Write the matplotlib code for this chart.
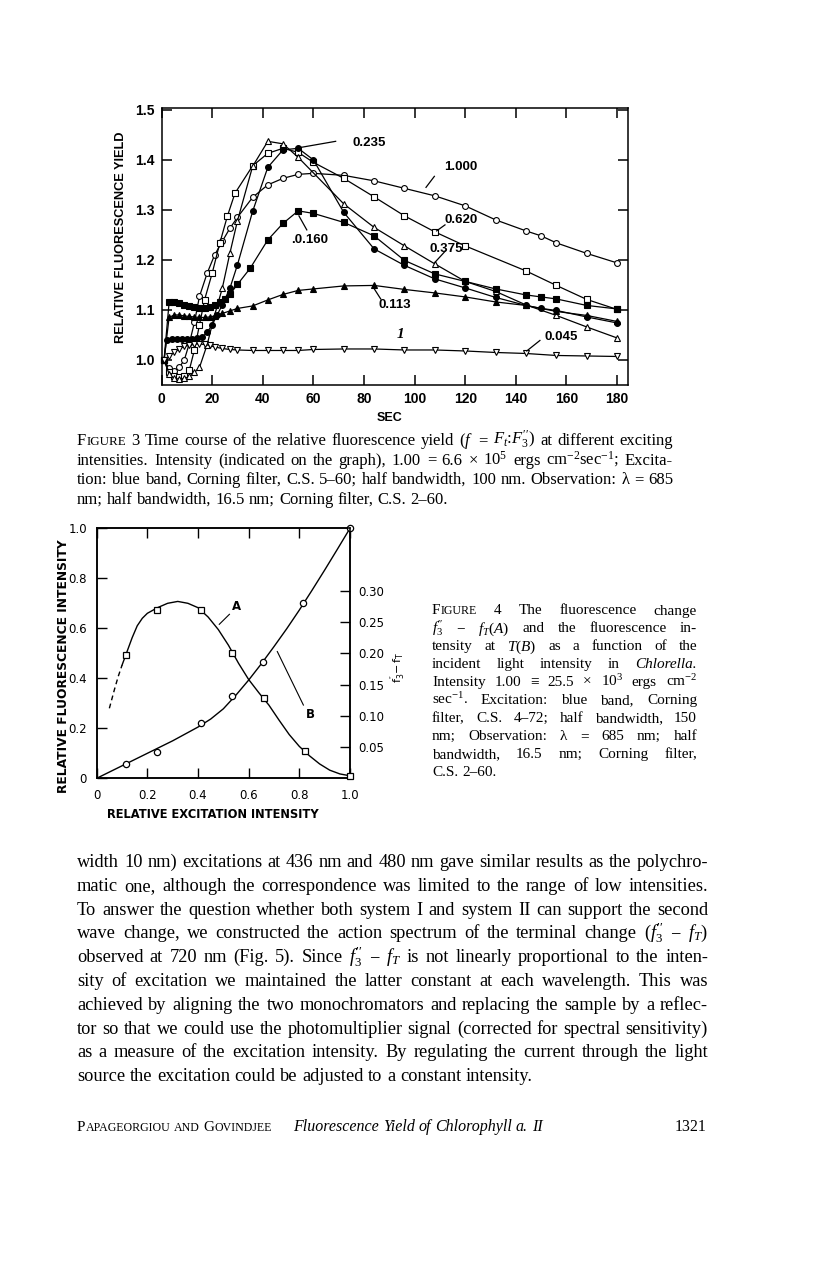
import matplotlib
matplotlib.use('Agg')
import matplotlib.pyplot as plt

# ── fonts ──
SERIF = ['Liberation Serif', 'DejaVu Serif']
SANS = ['Liberation Sans', 'DejaVu Sans']
plt.rcParams['mathtext.fontset'] = 'custom'
plt.rcParams['mathtext.rm'] = 'Liberation Serif'
plt.rcParams['mathtext.it'] = 'Liberation Serif:italic'
plt.rcParams['mathtext.sf'] = 'DejaVu Sans'

W, H = 816, 1268   # page size in px (dpi 100)

# ══════ Figure 3 data: time (sec) / relative fluorescence yield ══════
t_1000 = [1, 3, 5, 7, 9, 11, 13, 15, 18, 21, 24, 27, 30, 36, 42, 48, 54, 60, 72, 84, 96, 108, 120, 132, 144, 150, 156, 168, 180]
f_1000 = [1.0, 0.983, 0.978, 0.985, 1.0, 1.033, 1.075, 1.127, 1.173, 1.21, 1.237, 1.263, 1.285, 1.325, 1.35, 1.363, 1.371, 1.373, 1.369, 1.358, 1.343, 1.328, 1.308, 1.28, 1.258, 1.248, 1.234, 1.213, 1.194]

t_0620 = [1, 3, 5, 7, 9, 11, 13, 15, 17, 20, 23, 26, 29, 36, 42, 48, 54, 60, 72, 84, 96, 108, 120, 144, 156, 168, 180]
f_0620 = [1.0, 0.975, 0.967, 0.965, 0.967, 0.98, 1.02, 1.07, 1.12, 1.173, 1.233, 1.287, 1.333, 1.388, 1.413, 1.423, 1.415, 1.395, 1.363, 1.326, 1.288, 1.256, 1.228, 1.178, 1.149, 1.121, 1.101]

t_0375 = [1, 3, 5, 7, 9, 11, 13, 15, 18, 21, 24, 27, 30, 36, 42, 48, 54, 72, 84, 96, 108, 120, 132, 144, 156, 168, 180]
f_0375 = [1.0, 0.972, 0.963, 0.962, 0.963, 0.967, 0.975, 0.985, 1.03, 1.09, 1.143, 1.213, 1.278, 1.387, 1.437, 1.432, 1.405, 1.312, 1.265, 1.228, 1.192, 1.157, 1.137, 1.11, 1.089, 1.066, 1.044]

t_0235 = [1, 2, 4, 6, 8, 10, 12, 14, 16, 18, 20, 22, 24, 27, 30, 36, 42, 48, 54, 60, 72, 84, 96, 108, 120, 132, 144, 150, 156, 168, 180]
f_0235 = [1.0, 1.04, 1.042, 1.042, 1.042, 1.042, 1.042, 1.043, 1.045, 1.055, 1.07, 1.09, 1.11, 1.143, 1.19, 1.297, 1.385, 1.42, 1.423, 1.40, 1.295, 1.222, 1.189, 1.162, 1.144, 1.125, 1.109, 1.103, 1.099, 1.086, 1.074]

t_0160 = [1, 3, 5, 7, 9, 11, 13, 15, 17, 19, 21, 23, 25, 27, 30, 35, 42, 48, 54, 60, 72, 84, 96, 108, 120, 132, 144, 150, 156, 168, 180]
f_0160 = [1.0, 1.115, 1.115, 1.113, 1.11, 1.107, 1.105, 1.103, 1.103, 1.105, 1.11, 1.115, 1.122, 1.131, 1.151, 1.183, 1.24, 1.273, 1.298, 1.293, 1.275, 1.248, 1.199, 1.172, 1.157, 1.142, 1.13, 1.126, 1.122, 1.109, 1.102]

t_0113 = [1, 3, 5, 7, 9, 11, 13, 15, 17, 19, 21, 24, 27, 30, 36, 42, 48, 54, 60, 72, 84, 96, 108, 120, 132, 144, 156, 168, 180]
f_0113 = [1.0, 1.085, 1.09, 1.09, 1.088, 1.087, 1.086, 1.085, 1.085, 1.086, 1.088, 1.093, 1.098, 1.103, 1.108, 1.12, 1.131, 1.139, 1.142, 1.148, 1.149, 1.141, 1.134, 1.126, 1.116, 1.109, 1.097, 1.089, 1.077]

t_0045 = [1, 3, 5, 7, 9, 11, 13, 15, 17, 19, 21, 24, 27, 30, 36, 42, 48, 54, 60, 72, 84, 96, 108, 120, 132, 144, 156, 168, 180]
f_0045 = [1.0, 1.008, 1.015, 1.022, 1.027, 1.03, 1.032, 1.032, 1.031, 1.029, 1.026, 1.023, 1.021, 1.02, 1.019, 1.019, 1.019, 1.019, 1.021, 1.022, 1.022, 1.02, 1.02, 1.018, 1.015, 1.013, 1.009, 1.008, 1.007]

fig3_x_ticks = [0, 20, 40, 60, 80, 100, 120, 140, 160, 180]
fig3_y_ticks = [1.0, 1.1, 1.2, 1.3, 1.4, 1.5]

# ══════ Figure 4 data ══════
# A: f3'' - fT (right axis) ; B: fluorescence intensity at T (left axis)
a_x = [0.116, 0.239, 0.411, 0.536, 0.661, 0.822, 1.0]
a_y = [0.198, 0.270, 0.269, 0.200, 0.129, 0.044, 0.004]
b_x = [0.116, 0.239, 0.411, 0.536, 0.658, 0.816, 1.0]
b_y = [0.056, 0.105, 0.22, 0.33, 0.467, 0.703, 1.0]

# hand-drawn curves
curve_a_x = [0.10, 0.12, 0.14, 0.16, 0.18, 0.20, 0.24, 0.28, 0.32, 0.36, 0.40, 0.44, 0.48, 0.52, 0.56, 0.60, 0.64, 0.68, 0.72, 0.76, 0.80, 0.84, 0.88, 0.92, 0.96, 1.0]
curve_a_y = [0.181, 0.203, 0.225, 0.244, 0.256, 0.264, 0.273, 0.280, 0.283, 0.280, 0.273, 0.258, 0.238, 0.213, 0.184, 0.158, 0.137, 0.117, 0.093, 0.070, 0.051, 0.036, 0.023, 0.013, 0.007, 0.004]
dash_a_x = [0.05, 0.07, 0.085, 0.10]
dash_a_y = [0.112, 0.142, 0.163, 0.181]
curve_b_x = [0, 0.1, 0.2, 0.3, 0.4, 0.45, 0.5, 0.55, 0.6, 0.65, 0.7, 0.75, 0.8, 0.85, 0.9, 0.95, 1.0]
curve_b_y = [0, 0.05, 0.1, 0.15, 0.205, 0.237, 0.278, 0.333, 0.393, 0.458, 0.527, 0.598, 0.673, 0.752, 0.833, 0.916, 1.0]

fig4_x_ticks = [0, 0.2, 0.4, 0.6, 0.8, 1.0]
fig4_x_labels = ['0', '0.2', '0.4', '0.6', '0.8', '1.0']
fig4_y_ticks = [0, 0.2, 0.4, 0.6, 0.8, 1.0]
fig4_y_labels = ['0', '0.2', '0.4', '0.6', '0.8', '1.0']
fig4_r_ticks = [0.05, 0.10, 0.15, 0.20, 0.25, 0.30]
fig4_r_labels = ['0.05', '0.10', '0.15', '0.20', '0.25', '0.30']

# ══════ text ══════
cap3 = [
    [['F', '~IGURE'], '3', 'Time', 'course', 'of', 'the', 'relative', 'fluorescence', 'yield', '($f$', '=', "$F_t$:$F_3''$)", 'at', 'different', 'exciting'],
    ['intensities.', 'Intensity', '(indicated', 'on', 'the', 'graph),', '1.00', '=', '6.6', '×', '10$^5$', 'ergs', 'cm$^{-2}$sec$^{-1}$;', 'Excita-'],
    ['tion:', 'blue', 'band,', 'Corning', 'filter,', 'C.S.', '5–60;', 'half', 'bandwidth,', '100', 'nm.', 'Observation:', 'λ', '=', '685'],
    ['nm;', 'half', 'bandwidth,', '16.5', 'nm;', 'Corning', 'filter,', 'C.S.', '2–60.'],
]
cap4 = [
    [['F', '~IGURE'], '4', 'The', 'fluorescence', 'change'],
    ["$f_3''$", '−', '$f_T$($A$)', 'and', 'the', 'fluorescence', 'in-'],
    ['tensity', 'at', '$T$($B$)', 'as', 'a', 'function', 'of', 'the'],
    ['incident', 'light', 'intensity', 'in', '/Chlorella.'],
    ['Intensity', '1.00', '≡', '25.5', '×', '10$^3$', 'ergs', 'cm$^{-2}$'],
    ['sec$^{-1}$.', 'Excitation:', 'blue', 'band,', 'Corning'],
    ['filter,', 'C.S.', '4–72;', 'half', 'bandwidth,', '150'],
    ['nm;', 'Observation:', 'λ', '=', '685', 'nm;', 'half'],
    ['bandwidth,', '16.5', 'nm;', 'Corning', 'filter,'],
    ['C.S.', '2–60.'],
]
body = [
    'width 10 nm) excitations at 436 nm and 480 nm gave similar results as the polychro-',
    'matic one, although the correspondence was limited to the range of low intensities.',
    'To answer the question whether both system I and system II can support the second',
    "wave change, we constructed the action spectrum of the terminal change ($f_3''$ − $f_T$)",
    "observed at 720 nm (Fig. 5). Since $f_3''$ − $f_T$ is not linearly proportional to the inten-",
    'sity of excitation we maintained the latter constant at each wavelength. This was',
    'achieved by aligning the two monochromators and replacing the sample by a reflec-',
    'tor so that we could use the photomultiplier signal (corrected for spectral sensitivity)',
    'as a measure of the excitation intensity. By regulating the current through the light',
    'source the excitation could be adjusted to a constant intensity.',
]
body = [line.split(' ') for line in body]


def rect(l, t, r, b):
    return [l / W, 1 - b / H, (r - l) / W, (b - t) / H]


def make_words(fig, rend, tokens, size):
    groups = []
    for tok in tokens:
        parts = tok if isinstance(tok, list) else [tok]
        grp = []
        for p in parts:
            fs, st = size, 'normal'
            if p.startswith('~'):
                p, fs = p[1:], size * 0.78
            elif p.startswith('/'):
                p, st = p[1:], 'italic'
            t = fig.text(0, 0, p, fontsize=fs, family=SERIF, style=st, va='baseline')
            grp.append((t, t.get_window_extent(rend).width))
        groups.append(grp)
    return groups


def space(size, k=0.25):
    return k * size * 100 / 72


def fit_size(fig, rend, lines, x0, x1, k=0.25, ref=10.0):
    """largest size at which every justified line still fits with spaces of k em"""
    req = []
    for tokens in lines[:-1]:
        groups = make_words(fig, rend, tokens, ref)
        nat = sum(w for g in groups for _, w in g) + space(ref, k) * (len(groups) - 1)
        for g in groups:
            for t, _ in g:
                t.remove()
        req.append(ref * (x1 - x0) / nat)
    return min(req) * 0.99


def put_line(fig, rend, tokens, x0, x1, yb, size, last=False):
    """place words on one baseline, justified between x0 and x1 (px)"""
    groups = make_words(fig, rend, tokens, size)
    total = sum(w for g in groups for _, w in g)
    gap = space(size)
    if not last and len(groups) > 1:
        gap = (x1 - x0 - total) / (len(groups) - 1)
    x = x0
    for g in groups:
        for t, w in g:
            t.set_position((x / W, 1 - yb / H))
            x += w
        x += gap


fig = plt.figure(figsize=(W / 100, H / 100), dpi=100, facecolor='white')
rend = fig.canvas.get_renderer()

# ══════ Figure 3 ══════
ax3 = fig.add_axes(rect(161.5, 108.3, 628, 385))
series3 = [
    (t_1000, f_1000, 'o', 'white'),
    (t_0620, f_0620, 's', 'white'),
    (t_0375, f_0375, '^', 'white'),
    (t_0235, f_0235, 'o', 'black'),
    (t_0160, f_0160, 's', 'black'),
    (t_0113, f_0113, '^', 'black'),
    (t_0045, f_0045, 'v', 'white'),
]
for t, f, m, fc in series3:
    ax3.plot(t, f, color='black', lw=0.9, marker=m, ms=4.2, mfc=fc, mec='black', mew=0.8, clip_on=False)
ax3.set_xlim(0, 184.3)
ax3.set_ylim(0.95, 1.503)
ax3.set_xticks(fig3_x_ticks)
ax3.set_yticks(fig3_y_ticks)
ax3.set_yticklabels([f'{v:.1f}' for v in fig3_y_ticks])
ax3.tick_params(direction='in', top=True, right=True, length=7, width=1.1, pad=5, labelsize=10)
for lbl in ax3.get_xticklabels() + ax3.get_yticklabels():
    lbl.set_fontfamily(SANS)
    lbl.set_fontweight('bold')
for s in ax3.spines.values():
    s.set_linewidth(1.1)

# curve labels with leader lines
lab3 = [
    ('0.235', 75.6, 1.433, (68.8, 1.437), (55.2, 1.425)),
    ('1.000', 111.6, 1.385, (107.8, 1.367), (104.5, 1.345)),
    ('0.620', 112.0, 1.279, (112.0, 1.270), (108.7, 1.258)),
    ('0.375', 105.8, 1.221, (112.0, 1.217), (108.0, 1.195)),
    ('.0.160', 51.4, 1.239, (54.3, 1.288), (57.4, 1.26)),
    ('0.113', 85.7, 1.109, (83.7, 1.145), (86.6, 1.122)),
    ('0.045', 151.5, 1.045, (149.5, 1.039), (144.3, 1.018)),
]
for txt, x, y, p0, p1 in lab3:
    ax3.text(x, y, txt, family=SANS, weight='bold', fontsize=9.5, ha='left', va='center')
    ax3.plot([p0[0], p1[0]], [p0[1], p1[1]], color='black', lw=0.9)
ax3.text(94.6, 1.05, '1', family=SERIF, style='italic', weight='bold', fontsize=11, ha='center', va='center')

fig.text(121 / W, 1 - 237 / H, 'RELATIVE FLUORESCENCE YIELD', rotation=90, ha='center', va='center',
         family=SANS, weight='bold', fontsize=9.2)
fig.text(390 / W, 1 - 418 / H, 'SEC', ha='center', va='center', family=SANS, weight='bold', fontsize=9)

# ══════ Figure 4 ══════
ax4 = fig.add_axes(rect(96.7, 528.3, 350, 778.3))
ax4r = ax4.twinx()
ax4.plot(curve_b_x, curve_b_y, color='black', lw=1.0)
ax4.plot(b_x, b_y, ls='none', marker='o', ms=4.5, mfc='white', mec='black', mew=0.9, clip_on=False, zorder=5)
ax4r.plot(curve_a_x, curve_a_y, color='black', lw=1.0)
ax4r.plot(dash_a_x, dash_a_y, color='black', lw=1.0, ls=(0, (3.5, 2.5)))
ax4r.plot(a_x, a_y, ls='none', marker='s', ms=5, mfc='white', mec='black', mew=0.9, clip_on=False, zorder=5)

ax4.set_xlim(0, 1.0)
ax4.set_ylim(0, 1.0)
ax4r.set_ylim(0, 0.40)
ax4.set_xticks(fig4_x_ticks)
ax4.set_xticklabels(fig4_x_labels)
ax4.set_yticks(fig4_y_ticks)
ax4.set_yticklabels(fig4_y_labels)
ax4r.set_yticks(fig4_r_ticks)
ax4r.set_yticklabels(fig4_r_labels)
ax4.tick_params(axis='x', direction='in', top=True, length=7, width=1.0, pad=8, labelsize=8.5)
ax4.tick_params(axis='y', direction='in', right=False, length=7, width=1.0, pad=7, labelsize=8.5)
ax4r.tick_params(axis='y', direction='in', length=7, width=1.0, pad=6, labelsize=8.5)
for lbl in ax4.get_xticklabels() + ax4.get_yticklabels() + ax4r.get_yticklabels():
    lbl.set_fontfamily('DejaVu Sans')
for a in (ax4, ax4r):
    for s in a.spines.values():
        s.set_linewidth(1.1)

ax4.text(0.553, 0.689, 'A', family='DejaVu Sans', weight='bold', fontsize=8.5, ha='center', va='center')
ax4.plot([0.524, 0.484], [0.656, 0.616], color='black', lw=0.8)
ax4.text(0.842, 0.256, 'B', family='DejaVu Sans', weight='bold', fontsize=8.5, ha='center', va='center')
ax4.plot([0.816, 0.713], [0.293, 0.507], color='black', lw=0.8)

fig.text(64 / W, 1 - 666 / H, 'RELATIVE FLUORESCENCE INTENSITY', rotation=90, ha='center', va='center',
         family='DejaVu Sans', weight='bold', fontsize=8.8)
fig.text(213 / W, 1 - 815 / H, 'RELATIVE EXCITATION INTENSITY', ha='center', va='center',
         family='DejaVu Sans', weight='bold', fontsize=8.3)
fig.text(398 / W, 1 - 667 / H, r"$\mathsf{f_3''\!-f_T}$", rotation=90, ha='center', va='center', fontsize=8)

# ══════ captions / body text ══════
s3 = fit_size(fig, rend, cap3, 77, 673)
for i, toks in enumerate(cap3):
    put_line(fig, rend, toks, 77, 673, 445 + 19.5 * i, s3, last=(i == len(cap3) - 1))
s4 = min(11.0, fit_size(fig, rend, cap4, 432, 697, k=0.15))
for i, toks in enumerate(cap4):
    put_line(fig, rend, toks, 432, 697, 614.5 + 17.96 * i, s4, last=(i == len(cap4) - 1))
sb = fit_size(fig, rend, body, 77, 708)
for i, toks in enumerate(body):
    put_line(fig, rend, toks, 77, 708, 867 + 23.8 * i, sb, last=(i == len(body) - 1))

put_line(fig, rend, [['P', '~APAGEORGIOU'], '~AND', ['G', '~OVINDJEE']], 77, 280, 1131, 11, last=True)
put_line(fig, rend, ['/Fluorescence', '/Yield', '/of', '/Chlorophyll', '/a.', '/II'], 293, 530, 1131, 11.5, last=True)
fig.text(707 / W, 1 - 1131 / H, '1321', ha='right', va='baseline', family=SERIF, fontsize=11.5)

fig.savefig('out.png', dpi=100, facecolor='white')
